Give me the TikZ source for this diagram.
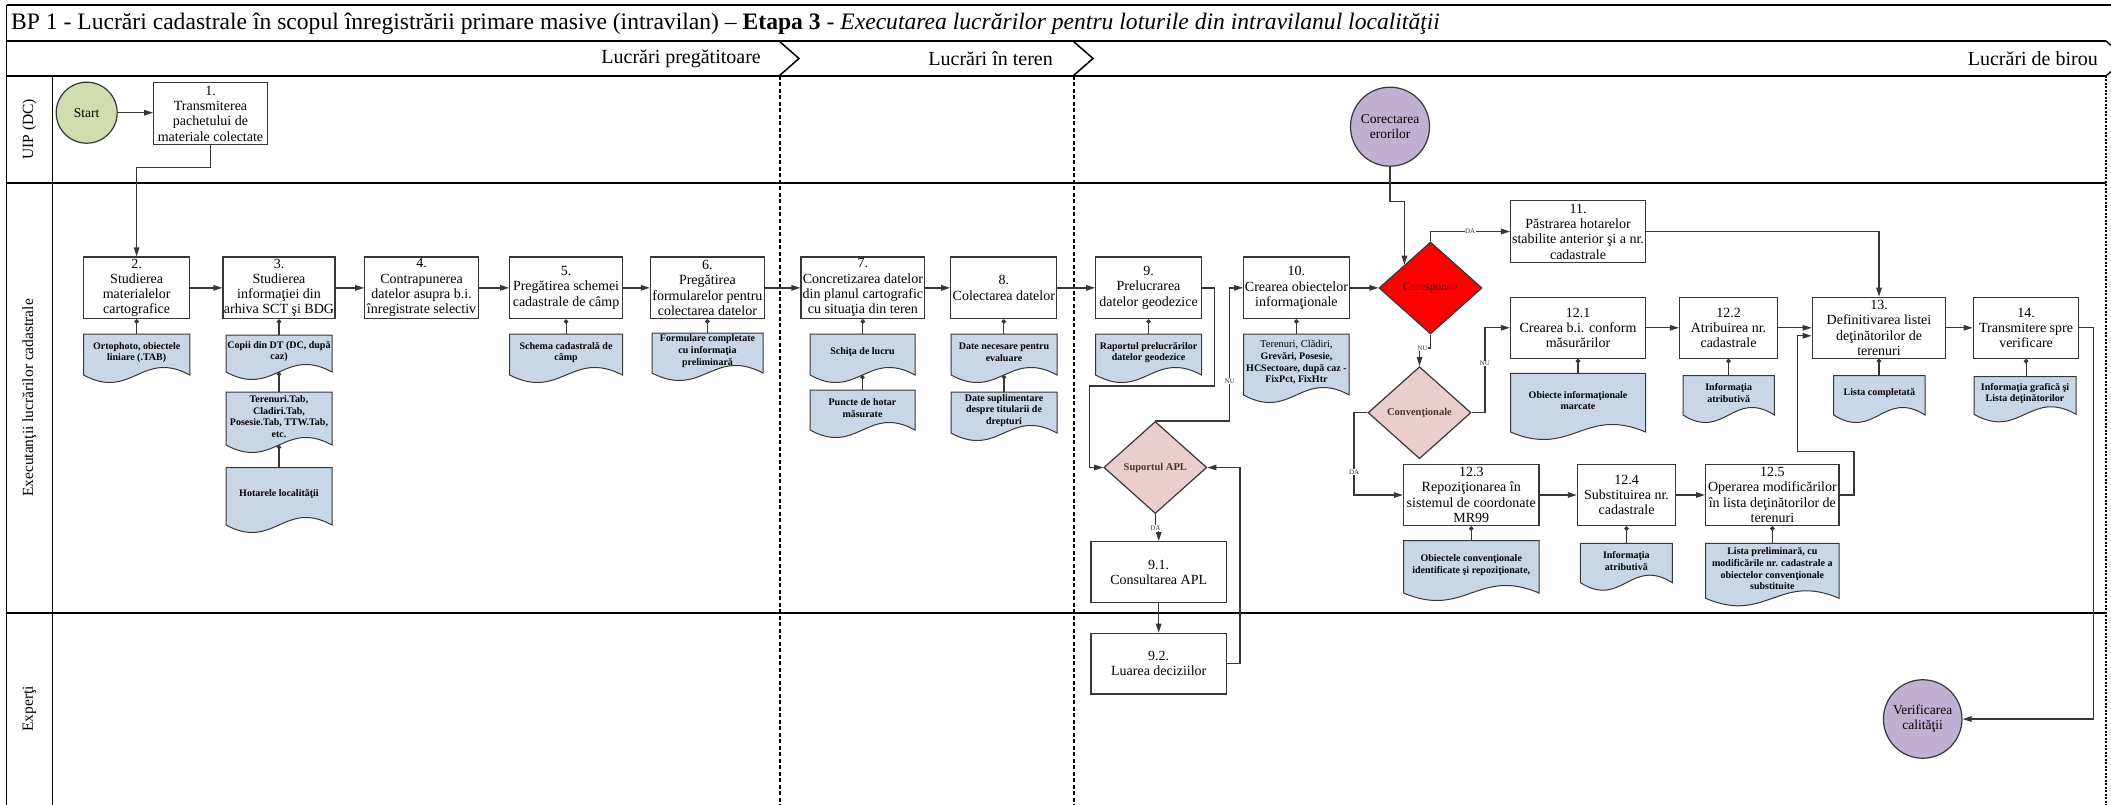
\documentclass[tikz,border=0pt]{standalone}
\usepackage{fontspec}
\setmainfont{Liberation Serif}
\usetikzlibrary{shapes.geometric,arrows.meta,calc}

\definecolor{startgreen}{RGB}{207,221,175}
\definecolor{eventlilac}{RGB}{192,177,211}
\definecolor{docblue}{RGB}{200,214,230}
\definecolor{decred}{RGB}{255,0,0}
\definecolor{decpink}{RGB}{234,205,205}
\definecolor{edgegray}{RGB}{55,55,55}
\definecolor{corestext}{RGB}{100,10,10}
\definecolor{convtext}{RGB}{80,50,50}

\newcommand\fs[2]{\fontsize{#1}{#2}\selectfont}

\tikzset{
  lane/.style={line width=2pt, black},
  rowline/.style={line width=1.5pt, black},
  phasesep/.style={line width=2pt, black, dash pattern=on 4pt off 2.5pt},
  enddots/.style={line width=2.5pt, black, dash pattern=on 2pt off 1.5pt},
  task/.style={rectangle, draw=edgegray, line width=1.2pt, fill=white, inner sep=1pt,
    align=center, font=\fs{14}{15.3}},
  doctext/.style={inner sep=0pt, align=center, font=\bfseries\fs{10}{11.7}},
  docfill/.style={draw=edgegray, line width=1pt, fill=docblue},
  decision/.style={diamond, draw=edgegray, line width=1.2pt, inner sep=0pt,
    minimum width=103pt, minimum height=92pt, align=center, font=\bfseries\fs{10.5}{12}},
  event/.style={circle, draw=edgegray, line width=1.2pt, inner sep=0pt, align=center,
    font=\fs{13.5}{15}},
  flow/.style={draw=edgegray, line width=1.3pt, -{Triangle[length=9pt,width=5.5pt]}},
  link/.style={draw=edgegray, line width=1.1pt, {Circle[length=4.5pt]}-},
  tag/.style={font=\fs{7}{8}, fill=white, inner sep=0.6pt, text=edgegray},
  phase/.style={font=\fs{20}{22}, inner sep=0pt},
  lanelabel/.style={rotate=90, font=\fs{15.5}{17}, inner sep=0pt},
}

% task box from its corner coordinates
\newcommand\taskbox[6]{%
  \node[task, minimum width={#4-#2}, minimum height={#5-#3}] (#1)
    at ({(#2+#4)/2},{(#3+#5)/2}) {#6};}

% document shape with a wavy lower edge: name, x0, y0, x1, y of the side ends, text
\newcommand\docbox[6]{%
  \path[docfill] (#2,#3) -- (#4,#3) -- (#4,#5)
    .. controls ({#4-0.45*(#4-#2)},{#5-26}) and ({#4-0.55*(#4-#2)},{#5+26}) .. (#2,#5) -- cycle;
  \node[doctext] (#1) at ({(#2+#4)/2},{(#3+#5)/2-2}) {#6};
  \coordinate (#1-top) at ({(#2+#4)/2},#3);
  \coordinate (#1-bot) at ({(#2+#4)/2},#5);}

\begin{document}
\begin{tikzpicture}[x=1pt,y=-1pt]
\useasboundingbox (0,0) rectangle (2111,805);

% ---------- title and phase rows ----------
\draw[rowline] (6.7,5) -- (2125,5);
\draw[rowline] (6.7,41) -- (2106,41);
\node[anchor=west, inner sep=0pt, font=\fs{23.6}{26}] (title) at (11,23.5)
  {BP 1 - Lucrări cadastrale în scopul înregistrării primare masive (intravilan) – \textbf{Etapa 3} - \textit{Executarea lucrărilor pentru loturile din intravilanul localităţii}};

\draw[rowline] (779,41) -- (799,58.5) -- (779,76);
\draw[rowline] (1073,41) -- (1093,58.5) -- (1073,76);
\draw[rowline] (2106,41) -- (2126,58.5) -- (2106,76);
\node[phase, anchor=east] (ph1) at (761,58.5) {Lucrări pregătitoare};
\node[phase, anchor=east] (ph2) at (1053,58.5) {Lucrări în teren};
\node[phase, anchor=east] (ph3) at (2098,58.5) {Lucrări de birou};

% ---------- swimlanes ----------
\draw[rowline] (6.7,5) -- (6.7,810);
\draw[rowline] (52.3,76) -- (52.3,810);
\draw[lane] (6.7,76) -- (2106,76);
\draw[lane] (6.7,182.7) -- (2106,182.7);
\draw[lane] (6.7,613.3) -- (2106,613.3);
\draw[phasesep] (780,76) -- (780,810);
\draw[phasesep] (1074,76) -- (1074,810);
\draw[enddots] (2106,76) -- (2106,810);

\node[lanelabel] (l1) at (29.5,129.3) {UIP (DC)};
\node[lanelabel] (l2) at (29.5,398) {Executanţii lucrărilor cadastrale};
\node[lanelabel] (l3) at (29.5,709) {Experţi};

% ---------- documents ----------
\docbox{d2}{83.5}{334}{189.8}{375}{Ortophoto, obiectele\\liniare (.TAB)}
\docbox{d3a}{226}{335}{332}{372}{Copii din DT (DC, după\\caz)}
\docbox{d3b}{226}{392}{332}{445}{Terenuri.Tab,\\Cladiri.Tab,\\Posesie.Tab, TTW.Tab,\\etc.}
\docbox{d3c}{226}{467.7}{332}{525}{Hotarele localităţii}
\docbox{d5}{509.6}{334}{622.5}{375}{Schema cadastrală de\\câmp}
\docbox{d6}{652}{333}{763}{373}{Formulare completate\\cu informaţia\\preliminară}
\docbox{d7a}{810}{334}{915}{375}{Schiţa de lucru}
\docbox{d7b}{810}{390}{915}{430}{Puncte de hotar\\măsurate}
\docbox{d8a}{951}{334}{1057}{375}{Date necesare pentru\\evaluare}
\docbox{d8b}{951}{392}{1057}{433}{Date suplimentare\\despre titularii de\\drepturi}
\docbox{d9}{1095.6}{334}{1201.5}{375}{Raportul prelucrărilor\\datelor geodezice}
\docbox{d10}{1243.6}{334}{1349.2}{395}{\mdseries\fs{10.5}{11.8}Terenuri, Clădiri,\\Grevări, Posesie,\\HCSectoare, după caz -\\FixPct, FixHtr}
\docbox{d121}{1510.5}{373.3}{1645.5}{432}{Obiecte informaţionale\\marcate}
\docbox{d122}{1683}{375.7}{1774.3}{415}{Informaţia\\atributivă}
\docbox{d13}{1833.7}{375.7}{1925}{415}{Lista completată}
\docbox{d14}{1974}{376.7}{2076}{414.3}{Informaţia grafică şi\\Lista deţinătorilor}
\docbox{d123}{1403.5}{540.7}{1539}{593}{Obiectele convenţionale\\identificate şi repoziţionate,}
\docbox{d124}{1580.4}{543.3}{1672.3}{582.7}{Informaţia\\atributivă}
\docbox{d125}{1705.7}{543.3}{1839}{598.3}{Lista preliminară, cu\\modificările nr. cadastrale a\\obiectelor convenţionale\\substituite}

% ---------- events ----------
\node[event, fill=startgreen, minimum size=61pt] (start) at (86.7,112.7) {Start};
\node[event, fill=eventlilac, minimum size=79pt] (corect) at (1390,126.7) {Corectarea\\erorilor};
\node[event, fill=eventlilac, minimum size=78.5pt] (verif) at (1922.7,719) {Verificarea\\calităţii};

% ---------- tasks ----------
\taskbox{b1}{153.7}{82.7}{267.3}{144.3}{1.\\Transmiterea\\pachetului de\\materiale colectate}
\taskbox{b2}{83.5}{257}{189.8}{318.7}{2.\\Studierea\\materialelor\\cartografice}
\taskbox{b3}{226}{257}{332}{318.7}{3.\\Studierea\\informaţiei din\\arhiva SCT şi BDG}
\taskbox{b4}{364.8}{257}{478.4}{318.7}{4.\\Contrapunerea\\datelor asupra b.i.\\înregistrate selectiv}
\taskbox{b5}{509.6}{257}{622.5}{318.7}{5.\\Pregătirea schemei\\cadastrale de câmp}
\taskbox{b6}{650.4}{257}{764.4}{318.7}{6.\\Pregătirea\\formularelor pentru\\colectarea datelor}
\taskbox{b7}{801}{257}{924.8}{318.7}{7.\\Concretizarea datelor\\din planul cartografic\\cu situaţia din teren}
\taskbox{b8}{950.8}{257}{1056.8}{318.7}{8.\\Colectarea datelor}
\taskbox{b9}{1095.6}{257}{1201.5}{318.7}{9.\\Prelucrarea\\datelor geodezice}
\taskbox{b10}{1243.6}{257}{1349.2}{318.7}{10.\\Crearea obiectelor\\informaţionale}
\taskbox{b11}{1510.5}{200.7}{1645.5}{262.3}{11.\\Păstrarea hotarelor\\stabilite anterior şi a nr.\\cadastrale}
\taskbox{b121}{1510.5}{297.3}{1645.5}{358.3}{12.1\\Crearea b.i. conform\\măsurărilor}
\taskbox{b122}{1679.5}{297.3}{1777.5}{358.3}{12.2\\Atribuirea nr.\\cadastrale}
\taskbox{b13}{1812.3}{297.3}{1945.7}{358.3}{13.\\Definitivarea listei\\deţinătorilor de\\terenuri}
\taskbox{b14}{1973.3}{297.3}{2078.8}{358.3}{14.\\Transmitere spre\\verificare}
\taskbox{b123}{1403.5}{464.3}{1539}{525.7}{12.3\\Repoziţionarea în\\sistemul de coordonate\\MR99}
\taskbox{b124}{1577.4}{464.3}{1675.7}{525.7}{12.4\\Substituirea nr.\\cadastrale}
\taskbox{b125}{1705.7}{464.3}{1839}{525.7}{12.5\\Operarea modificărilor\\în lista deţinătorilor de\\terenuri}
\taskbox{b91}{1091}{541.7}{1226.4}{602.7}{9.1.\\Consultarea APL}
\taskbox{b92}{1091}{633.3}{1226.4}{694}{9.2.\\Luarea deciziilor}

% ---------- decisions ----------
\node[decision, fill=decred, text=corestext, font=\fs{11.5}{13}] (cor) at (1430.5,288) {Corespunde};
\node[decision, fill=decpink, text=convtext] (conv) at (1419.5,412.7) {Convenţionale};
\node[decision, fill=decpink, text=convtext] (sup) at (1155.3,467.5) {Suportul APL};

% ---------- sequence flow ----------
\draw[flow] (start.east) -- (start.east -| b1.west);
\draw[flow] (b1.south) -- ++(0,22.4) -| (b2.north);
\foreach \a/\b in {b2/b3,b3/b4,b4/b5,b5/b6,b6/b7,b7/b8,b8/b9,b10/cor,b121/b122,b122/b13,b13/b14,b123/b124,b124/b125}
  \draw[flow] (\a.east) -- (\a.east -| \b.west);
\draw[flow] (b9.east) -- ++(12.5,0) |- ($(sup.west)+(-14,-81.5)$) |- (sup.west);
\draw[flow] (sup.north) -- ++(74.3,0) |- node[tag,pos=0.15] (t1) {NU} (b10.west);
\draw[flow] (sup.south) -- ++(0,14) node[tag] (t2) {DA} -| (b91.north);
\draw[flow] (b91.south) -- (b92.north);
\draw[flow] (b92.east) -- ++(13,0) |- (sup.east);
\draw[flow] (corect.south) -- ++(0,35) -| (cor.north west);
\draw[flow] (cor.north) |- node[tag,pos=0.75] (t3) {DA} (b11.west);
\draw[flow] (cor.south) -- ++(0,13.4) node[tag,xshift=-8pt] (t4) {NU} -| (conv.north);
\draw[flow] (conv.east) -- ++(13.3,0) |- node[tag,pos=0.29] (t5) {NU} (b121.west);
\draw[flow] (conv.west) -- ++(-13.3,0) |- node[tag,pos=0.36] (t6) {DA} (b123.west);
\draw[flow] (b11.east) -| (b13.north);
\draw[flow] (b125.east) -- ++(14.3,0) |- ($(b13.west)+(-14.3,124)$) |- ($(b13.west)+(0,8)$);
\draw[flow] (b14.east) -- ++(14,0) |- (verif.east);

% ---------- document associations ----------
\foreach \a/\b in {b2/d2,b3/d3a,b5/d5,b6/d6,b7/d7a,b8/d8a,b9/d9,b10/d10,b121/d121,b122/d122,b13/d13,b14/d14,b123/d123,b124/d124,b125/d125}
  \draw[link] (\a.south) -- (\a.south |- \b-top);
\foreach \a/\b in {d3a/d3b,d3b/d3c,d7a/d7b,d8a/d8b}
  \draw[link] (\a-bot) -- (\b-top);
\end{tikzpicture}
\end{document}
